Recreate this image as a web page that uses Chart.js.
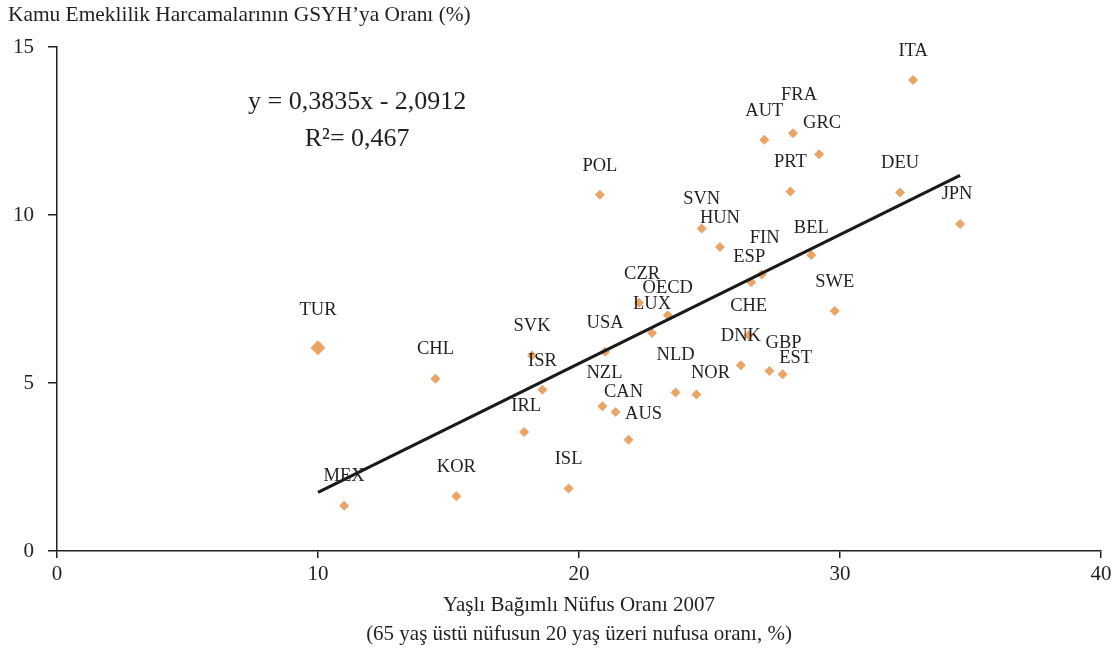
<!DOCTYPE html>
<html>
<head>
<meta charset="utf-8">
<script src="https://cdn.jsdelivr.net/npm/chart.js@4.4.1/dist/chart.umd.min.js"></script>
<style>
  html, body { margin: 0; padding: 0; background: #fff; }
  #wrap { width: 1119px; height: 653px; position: relative; }
</style>
</head>
<body>
<div id="wrap"><canvas id="chart"></canvas></div>
<script>
// OECD countries: old-age dependency ratio 2007 (x) vs public pension spending % of GDP (y)
const countries = ['TUR', 'MEX', 'CHL', 'KOR', 'IRL', 'SVK', 'ISR', 'ISL', 'POL', 'USA', 'NZL', 'CAN',
  'AUS', 'CZR', 'LUX', 'OECD', 'NLD', 'NOR', 'SVN', 'HUN', 'CHE', 'DNK', 'ESP', 'FIN', 'AUT', 'GBP',
  'EST', 'PRT', 'FRA', 'BEL', 'GRC', 'SWE', 'DEU', 'ITA', 'JPN'];
const dependency = [10.0, 11.0, 14.5, 15.3, 17.9, 18.2, 18.6, 19.6, 20.8, 21.0, 20.9, 21.4,
  21.9, 22.3, 22.8, 23.4, 23.7, 24.5, 24.7, 25.4, 26.5, 26.2, 26.6, 27.0, 27.1, 27.3,
  27.8, 28.1, 28.2, 28.9, 29.2, 29.8, 32.3, 32.8, 34.6];
const pensionSpend = [6.05, 1.35, 5.13, 1.63, 3.54, 5.82, 4.80, 1.86, 10.6, 5.93, 4.31, 4.14,
  3.31, 7.39, 6.49, 7.02, 4.72, 4.66, 9.60, 9.05, 6.42, 5.53, 8.00, 8.23, 12.24, 5.36,
  5.26, 10.70, 12.43, 8.81, 11.81, 7.14, 10.67, 14.02, 9.73];

// trend line from the chart: y = 0.3835x - 2.0912
const slope = 0.3835;
const intercept = -2.0912;
const trendText = ['y = 0,3835x - 2,0912', 'R\u00b2= 0,467'];

const xTicks = [0, 10, 20, 30, 40];
const yTicks = [0, 5, 10, 15];

// label placement (pixel nudges from the point, like the hand-moved labels in the original)
const labelNudge = {
  TUR: [0, -38], CAN: [8, -20], AUS: [15, -26], NOR: [14, -21], NLD: [0, -37], NZL: [2, -33],
  FRA: [6, -38], FIN: [3, -36], ESP: [-2, -25], GBP: [14, -28], EST: [13, -16], BEL: [0, -27],
  OECD: [0, -27], IRL: [2, -26], CZR: [3, -29], JPN: [-3, -30], GRC: [3, -31]
};

const serif = '"Liberation Serif", "DejaVu Serif", serif';
const ink = '#231f20';
const orange = '#e9a466';

const xMin = Math.min(...dependency);
const xMax = Math.max(...dependency);

const points = countries.map((c, i) => ({ x: dependency[i], y: pensionSpend[i], c: c }));

const pointLabels = {
  id: 'pointLabels',
  afterDatasetsDraw(chart) {
    const ctx = chart.ctx;
    const xs = chart.scales.x, ys = chart.scales.y;
    ctx.save();
    ctx.font = '18.5px ' + serif;
    ctx.fillStyle = ink;
    ctx.textAlign = 'center';
    ctx.textBaseline = 'middle';
    points.forEach(p => {
      const n = labelNudge[p.c] || [0, -29];
      ctx.fillText(p.c, xs.getPixelForValue(p.x) + n[0], ys.getPixelForValue(p.y) + n[1]);
    });
    // trendline equation
    ctx.font = '26px ' + serif;
    ctx.fillText(trendText[0], xs.getPixelForValue(11.5), ys.getPixelForValue(13.35));
    ctx.fillText(trendText[1], xs.getPixelForValue(11.5), ys.getPixelForValue(12.25));
    // axis caption on top
    ctx.textAlign = 'left';
    ctx.font = '21.4px ' + serif;
    ctx.fillText('Kamu Emeklilik Harcamalarının GSYH\u2019ya Oranı (%)', 8, 15);
    ctx.restore();
  }
};

new Chart(document.getElementById('chart'), {
  type: 'scatter',
  data: {
    datasets: [
      {
        label: 'trend',
        type: 'line',
        data: [
          { x: xMin, y: slope * xMin + intercept },
          { x: xMax, y: slope * xMax + intercept }
        ],
        borderColor: '#1a1a1a',
        borderWidth: 3.2,
        pointRadius: 0,
        fill: false
      },
      {
        label: 'ülkeler',
        data: points,
        pointStyle: 'rectRot',
        backgroundColor: orange,
        borderColor: orange,
        borderWidth: 0,
        pointRadius: points.map(p => p.c === 'TUR' ? 7.5 : 5),
        pointHoverRadius: points.map(p => p.c === 'TUR' ? 7.5 : 5)
      }
    ]
  },
  options: {
    responsive: true,
    maintainAspectRatio: false,
    animation: false,
    layout: { padding: { top: 47, right: 18, left: 0, bottom: 0 } },
    plugins: {
      legend: { display: false },
      tooltip: { enabled: false }
    },
    scales: {
      x: {
        type: 'linear',
        min: 0,
        max: 40,
        afterBuildTicks: s => { s.ticks = xTicks.map(v => ({ value: v })); },
        afterFit: s => { s.height = 102; },
        border: { color: ink, width: 1.5 },
        grid: { drawOnChartArea: false, tickLength: 7, color: ink, lineWidth: 1.5 },
        ticks: { color: ink, font: { family: serif, size: 21 }, padding: 4, maxRotation: 0 },
        title: {
          display: true,
          text: ['Yaşlı Bağımlı Nüfus Oranı 2007', '(65 yaş üstü nüfusun 20 yaş üzeri nufusa oranı, %)'],
          color: ink,
          font: { family: serif, size: 21, lineHeight: 1.38 },
          padding: { top: 2 }
        }
      },
      y: {
        type: 'linear',
        min: 0,
        max: 15,
        afterBuildTicks: s => { s.ticks = yTicks.map(v => ({ value: v })); },
        afterFit: s => { s.width = 57; },
        border: { color: ink, width: 1.5 },
        grid: { drawOnChartArea: false, tickLength: 9, color: ink, lineWidth: 1.5 },
        ticks: { color: ink, font: { family: serif, size: 21 }, padding: 14 }
      }
    }
  },
  plugins: [pointLabels]
});
</script>
</body>
</html>
